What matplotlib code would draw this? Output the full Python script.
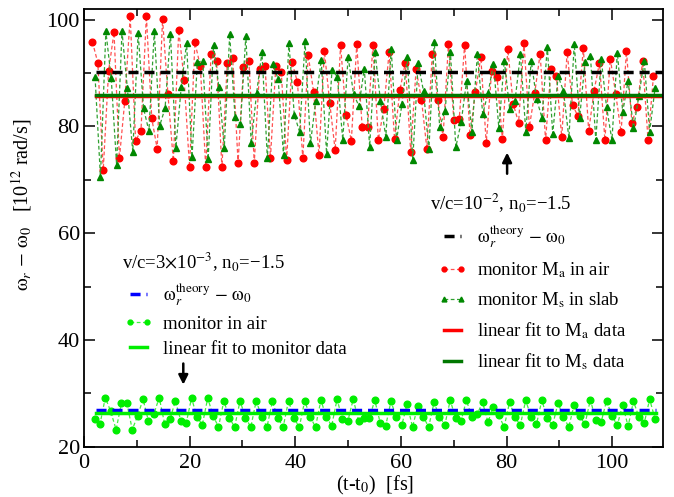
import numpy as np
import matplotlib.pyplot as plt
from matplotlib.lines import Line2D
from matplotlib.ticker import MultipleLocator

plt.rcParams['font.family'] = ['Liberation Serif', 'DejaVu Serif']
plt.rcParams['mathtext.fontset'] = 'stix'

# time grids (fs), one sample per ~1 fs
t_air = np.linspace(1.6, 107.8, 105)
t_slab = np.linspace(2.1, 108.1, 105)
t_low = np.linspace(2.0, 108.1, 105)

# v/c = 1e-2 : monitor M_a in air
w_air = [95.8, 91.9, 71.8, 90.4, 97.6, 74.0, 84.8, 100.6, 77.3, 79.2,
         100.7, 81.5, 75.8, 100.1, 86.0, 73.5, 98.0, 88.7, 72.3, 95.7,
         91.3, 72.4, 93.6, 92.3, 72.3, 91.9, 92.8, 73.1, 91.1, 92.3,
         73.2, 90.7, 91.3, 74.1, 91.3, 90.2, 73.7, 92.0, 88.3, 74.0,
         93.3, 86.5, 74.6, 94.1, 84.3, 75.5, 95.2, 82.2, 77.3, 95.4,
         79.9, 79.9, 95.2, 77.5, 83.2, 93.9, 77.6, 86.8, 91.9, 75.2,
         90.7, 85.0, 75.8, 93.6, 85.0, 78.0, 95.5, 81.1, 81.4, 95.3,
         78.3, 86.5, 93.0, 76.8, 90.3, 89.2, 77.6, 94.4, 84.2, 80.7,
         95.6, 79.9, 86.3, 93.6, 77.4, 90.7, 89.4, 78.0, 93.9, 84.0,
         81.9, 94.7, 79.1, 86.7, 91.9, 77.4, 92.7, 86.1, 78.9, 94.1,
         80.7, 83.7, 92.3, 77.4, 89.4]

# v/c = 1e-2 : monitor M_s in slab
w_slab = [89.2, 70.5, 97.8, 89.0, 72.8, 97.8, 87.1, 75.2, 97.5, 83.4,
          79.1, 97.8, 80.1, 83.4, 97.3, 76.0, 87.3, 95.6, 74.2, 92.0,
          92.3, 73.8, 95.2, 87.3, 76.0, 97.2, 81.7, 80.4, 96.9, 76.8,
          86.2, 93.9, 74.0, 91.6, 88.9, 74.6, 95.6, 82.2, 78.9, 95.9,
          76.8, 84.8, 92.4, 74.9, 90.5, 89.3, 77.5, 93.0, 86.1, 83.8,
          90.8, 76.2, 93.9, 84.8, 78.0, 94.5, 77.4, 84.2, 92.9, 73.7,
          91.8, 86.6, 75.7, 95.8, 79.9, 82.9, 93.9, 76.1, 80.8, 88.5,
          79.0, 93.5, 82.3, 86.3, 91.7, 79.6, 92.3, 83.3, 84.8, 93.5,
          79.0, 92.3, 85.1, 81.6, 94.9, 78.6, 89.4, 86.6, 77.8, 95.4,
          81.6, 92.1, 93.2, 77.4, 92.7, 83.6, 77.4, 93.8, 82.7, 88.5,
          79.6, 85.7, 92.3, 79.0, 87.1]

# v/c = 3e-3 : monitor in air
w_low = [25.1, 24.2, 29.2, 26.6, 23.2, 28.2, 28.1, 23.2, 25.8, 28.9,
         24.8, 26.1, 29.2, 24.3, 25.1, 28.6, 24.9, 24.4, 29.1, 25.6,
         24.1, 29.1, 25.8, 23.7, 28.6, 25.4, 23.7, 28.6, 25.4, 23.7,
         28.6, 25.6, 23.7, 28.5, 25.4, 23.7, 28.6, 25.3, 23.7, 28.6,
         25.6, 23.7, 28.7, 25.6, 23.9, 28.9, 25.1, 24.8, 28.9, 24.8,
         25.3, 25.4, 28.7, 24.5, 23.8, 28.5, 25.5, 24.0, 28.0, 23.7,
         27.7, 25.6, 23.7, 28.3, 25.6, 24.1, 28.7, 25.3, 24.8, 28.7,
         25.6, 26.1, 28.3, 24.6, 27.5, 25.9, 23.7, 28.3, 25.6, 24.0,
         28.7, 25.6, 24.2, 28.7, 25.3, 24.0, 28.2, 25.6, 23.7, 27.9,
         25.8, 24.2, 28.8, 25.0, 24.6, 28.6, 25.8, 24.0, 27.9, 23.8,
         28.5, 25.6, 24.4, 28.9, 25.2]

# theory levels and linear fits
theory_fast = 90.2
fit_air = 85.6
fit_slab = 85.9
theory_slow = 26.8
fit_slow = 26.3
span_fast = [2.2, 109.6]
span_slow = [2.2, 108.3]

fig = plt.figure(figsize=(6.74, 4.97), dpi=100)
ax = fig.add_axes([0.1246, 0.1012, 0.859, 0.881])

# monitor data
ax.plot(t_air, w_air, color='#ff5050', lw=0.9, dashes=(3, 2),
        marker='o', ms=4.8, mec='#ff0000', mfc='#ff0000')
ax.plot(t_slab, w_slab, color='#30a030', lw=0.9, dashes=(3, 2),
        marker='^', ms=4.8, mec='#008800', mfc='#008800')
ax.plot(t_low, w_low, color='#40f040', lw=0.9, dashes=(3, 2),
        marker='o', ms=4.8, mec='#00ee00', mfc='#00ee00')

# theory
ax.plot(span_fast, [theory_fast] * 2, color='black', lw=2.5, dashes=(2.9, 1.7))
ax.plot(span_slow, [theory_slow] * 2, color='#0000ff', lw=2.5, dashes=(2.9, 1.7))

# fits
ax.plot(span_fast, [fit_air] * 2, color='#ff0000', lw=2.5)
ax.plot(span_fast, [fit_slab] * 2, color='#007700', lw=2.5)
ax.plot(span_slow, [fit_slow] * 2, color='#00ee00', lw=2.5)

# arrows
ax.annotate('', xy=(18.8, 31.1), xytext=(18.8, 36.1),
            arrowprops=dict(arrowstyle='-|>', color='black', lw=1.8, mutation_scale=14))
ax.annotate('', xy=(80.1, 75.6), xytext=(80.1, 70.6),
            arrowprops=dict(arrowstyle='-|>', color='black', lw=1.8, mutation_scale=14))

ax.set_xlim(0, 109.6)
ax.set_ylim(20, 102)
ax.xaxis.set_major_locator(MultipleLocator(20))
ax.xaxis.set_minor_locator(MultipleLocator(10))
ax.yaxis.set_major_locator(MultipleLocator(20))
ax.yaxis.set_minor_locator(MultipleLocator(10))
ax.tick_params(which='both', direction='in', top=True, right=True, labelsize=16)
ax.tick_params(which='major', length=8, width=1.1)
ax.tick_params(which='minor', length=5, width=1.1)
ax.tick_params(axis='x', pad=5)
ax.tick_params(axis='y', pad=3)
for s in ax.spines.values():
    s.set_linewidth(1.3)

w = r'\mathrm{\omega}'

# axis labels
fig.text(375 / 674, 1 - 485 / 497, r'(t-t$_0$)  [fs]', ha='center', va='center', fontsize=14.5)
fig.text(22 / 674, 1 - 205 / 497, r'$%s_r$ $-$ $%s_0$   [10$^{12}$ rad/s]' % (w, w),
         rotation=90, ha='center', va='center', fontsize=14.5)

# legend, v/c = 1e-2
fig.text(430 / 674, 1 - 203 / 497, r'v/c=10$^{-2}$, n$_0$=−1.5', ha='left', va='center', fontsize=13.5)
h_fast = [Line2D([], [], color='black', lw=2.5, dashes=(2.9, 1.7)),
          Line2D([], [], color='#ff5050', lw=0.9, dashes=(3, 2), marker='o', ms=3.5,
                 mec='#ff0000', mfc='#ff0000'),
          Line2D([], [], color='#30a030', lw=0.9, dashes=(3, 2), marker='^', ms=3.5,
                 mec='#008800', mfc='#008800'),
          Line2D([], [], color='#ff0000', lw=2.5),
          Line2D([], [], color='#007700', lw=2.5)]
lab_fast = [r'$%s_r^{\rm theory}$ $-$ $%s_0$' % (w, w),
            r'monitor M$_{\rm a}$ in air',
            r'monitor M$_{\rm s}$ in slab',
            r'linear fit to M$_{\rm a}$ data',
            r'linear fit to M$_{\rm s}$ data']
fig.legend(h_fast, lab_fast, loc='upper left', bbox_to_anchor=(438 / 674, 1 - 224 / 497),
           frameon=False, fontsize=13.5, handlelength=1.5, handletextpad=0.6,
           labelspacing=0.55, borderpad=0, borderaxespad=0, numpoints=2)

# legend, v/c = 3e-3
fig.text(122 / 674, 1 - 262 / 497, r'v/c=3$\times$10$^{-3}$, n$_0$=−1.5', ha='left', va='center', fontsize=13.5)
h_slow = [Line2D([], [], color='#0000ff', lw=2.5, dashes=(2.9, 1.7)),
          Line2D([], [], color='#40f040', lw=0.9, dashes=(3, 2), marker='o', ms=3.5,
                 mec='#00ee00', mfc='#00ee00'),
          Line2D([], [], color='#00ee00', lw=2.5)]
lab_slow = [r'$%s_r^{\rm theory}$ $-$ $%s_0$' % (w, w),
            'monitor in air',
            'linear fit to monitor data']
fig.legend(h_slow, lab_slow, loc='upper left', bbox_to_anchor=(124 / 674, 1 - 282 / 497),
           frameon=False, fontsize=13.5, handlelength=1.5, handletextpad=0.6,
           labelspacing=0.4, borderpad=0, borderaxespad=0, numpoints=2)

fig.savefig('out.png', dpi=100)
